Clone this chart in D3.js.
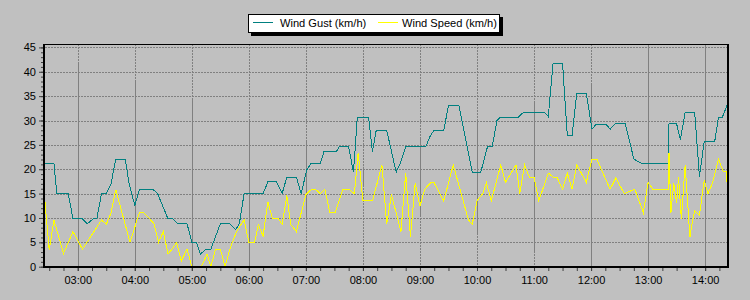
<!DOCTYPE html>
<html>
<head>
<meta charset="utf-8">
<script src="https://cdn.jsdelivr.net/npm/d3@7"></script>
<style>
  body { margin: 0; background: #c0c0c0; }
  svg { display: block; font-family: Arial, "Liberation Sans", sans-serif; }
</style>
</head>
<body>
<svg id="chart" width="750" height="300"></svg>
<script>
var gustTimes = ["02:25","02:35","02:38","02:50","02:55","03:05","03:10","03:16","03:20","03:25",
  "03:30","03:35","03:40","03:50","03:54","04:00","04:05","04:19","04:24","04:35",
  "04:40","04:45","04:55","05:00","05:05","05:09","05:15","05:20","05:30","05:40",
  "05:46","05:50","05:55","06:15","06:20","06:29","06:35","06:40","06:50","06:55",
  "07:01","07:05","07:15","07:19","07:32","07:35","07:45","07:50","07:52","07:54",
  "08:06","08:10","08:14","08:25","08:35","08:39","08:45","09:06","09:11","09:15",
  "09:25","09:30","09:41","09:55","10:04","10:11","10:16","10:21","10:24","10:43",
  "10:49","11:11","11:15","11:20","11:30","11:35","11:40","11:45","11:55","12:01",
  "12:05","12:16","12:20","12:25","12:36","12:45","12:54","13:21","13:22","13:30",
  "13:34","13:39","13:49","13:54","13:59","14:10","14:14","14:18","14:23"];
var gustKmh = [21.1,21.1,15.0,15.0,9.8,9.8,8.8,9.8,9.8,15.0,
  15.0,17.0,22.1,22.1,17.0,12.6,15.9,15.9,15.0,9.8,
  9.8,8.8,8.8,5.0,5.0,2.6,3.6,3.6,8.8,8.8,
  7.6,8.8,15.0,15.0,17.4,17.4,15.0,18.4,18.4,15.0,
  19.9,21.1,21.1,23.6,23.6,24.6,24.6,19.4,24.6,30.6,
  30.6,23.6,28.0,28.0,19.4,21.1,24.6,24.6,26.9,28.0,
  28.0,33.0,33.0,19.4,19.4,24.6,24.6,30.0,30.6,30.6,
  31.7,31.7,30.8,41.7,41.7,26.9,26.9,35.6,35.6,28.2,
  29.2,29.2,28.2,29.3,29.3,22.1,21.1,21.1,29.3,29.3,
  26.1,31.7,31.7,18.5,25.6,25.6,30.6,30.6,33.1];

var speedTimes = ["02:25","02:30","02:35","02:45","02:55","03:05","03:25","03:30","03:35","03:40",
  "03:55","04:05","04:09","04:20","04:25","04:30","04:35","04:40","04:44","04:49",
  "04:55","05:00","05:10","05:16","05:20","05:25","05:30","05:35","05:40","05:47",
  "05:55","06:00","06:06","06:10","06:15","06:20","06:25","06:31","06:35","06:40",
  "06:44","06:50","07:00","07:06","07:10","07:15","07:20","07:25","07:31","07:39",
  "07:45","07:51","07:55","08:00","08:10","08:20","08:25","08:30","08:40","08:45",
  "08:50","08:55","09:00","09:05","09:11","09:15","09:25","09:35","09:51","09:55",
  "10:00","10:06","10:10","10:15","10:25","10:30","10:41","10:45","10:50","10:55",
  "11:00","11:05","11:15","11:20","11:24","11:30","11:35","11:40","11:45","11:55",
  "12:01","12:06","12:20","12:26","12:35","12:46","12:55","13:00","13:05","13:21",
  "13:22","13:24","13:27","13:30","13:32","13:35","13:39","13:44","13:46","13:49",
  "13:54","13:59","14:03","14:08","14:14","14:19","14:22","14:23"];
var speedKmh = [14.4,3.4,9.6,2.7,7.2,3.6,9.6,8.7,11.0,15.8,
  5.0,11.2,11.2,8.9,5.0,7.2,2.6,3.8,5.0,1.2,
  3.6,0,0,2.6,0,3.6,3.6,0,3.6,7.2,
  9.6,5.0,5.0,8.6,6.3,13.3,9.8,9.8,8.7,14.6,
  8.7,7.2,14.8,15.9,15.9,15.0,15.9,11.2,11.2,15.9,
  15.9,15.0,23.4,13.5,13.5,20.9,8.7,14.8,7.2,19.2,
  6.2,17.2,12.4,15.9,17.2,17.2,13.5,20.9,9.6,8.7,
  13.5,15.0,17.2,13.5,20.9,17.3,20.9,15.0,20.9,18.4,
  18.4,13.5,19.2,18.4,18.4,15.9,19.2,15.9,20.9,17.3,
  22.1,22.1,15.9,18.2,15.0,15.9,11.1,17.3,15.9,15.9,
  23.4,11.1,17.2,13.0,18.4,9.8,20.9,6.0,8.5,11.5,
  10.5,17.7,15.0,17.3,22.1,19.6,19.6,17.3];

var hourTicks = ["03:00","04:00","05:00","06:00","07:00","08:00","09:00","10:00","11:00","12:00","13:00","14:00"];
var yTicks = [0,5,10,15,20,25,30,35,40,45];
var seriesNames = ["Wind Gust (km/h)", "Wind Speed (km/h)"];
var seriesColors = ["#008080", "#ffff00"];

// the old control left the hour grid lines half solid, half dotted (km/h span that is solid)
var hourSolidSpan = [[0,41.8],[0,37.9],[0,34.2],[0,30.1],[10,26],[16.4,20.5],
  [10.6,26.4],[6.5,29.7],[2.8,33.8],[0,37.7],[0,45.7],[0,45.7]];

var parseT = d3.timeParse("%H:%M");
var parseTs = d3.timeParse("%H:%M:%S");

var plot = { left: 44, right: 727, top: 44, bottom: 267 };

var x = d3.scaleTime()
  .domain([parseTs("02:24:30"), parseTs("14:23:00")])
  .range([plot.left, plot.right]);
var y = d3.scaleLinear().domain([0, 45.7]).range([266.7, plot.top]);

var svg = d3.select("#chart");
svg.append("rect").attr("width", 750).attr("height", 300).attr("fill", "#c0c0c0");

// horizontal grid
var grid = svg.append("g");
grid.selectAll("line.h")
  .data(yTicks.filter(function (v) { return v > 0; }))
  .enter().append("line")
  .attr("class", "h")
  .attr("x1", plot.left + 1).attr("x2", plot.right)
  .attr("y1", function (v) { return Math.round(y(v)) + 0.5; })
  .attr("y2", function (v) { return Math.round(y(v)) + 0.5; })
  .attr("stroke", "#808080")
  .attr("stroke-dasharray", "2,1");

// vertical grid
var hours = hourTicks.map(parseT);
grid.selectAll("line.v")
  .data(hours)
  .enter().append("line")
  .attr("class", "v")
  .attr("x1", function (d) { return Math.round(x(d)) + 0.5; })
  .attr("x2", function (d) { return Math.round(x(d)) + 0.5; })
  .attr("y1", plot.top)
  .attr("y2", plot.bottom)
  .attr("stroke", "#808080")
  .attr("stroke-dasharray", "2,1");
grid.selectAll("line.vs")
  .data(hours)
  .enter().append("line")
  .attr("class", "vs")
  .attr("x1", function (d) { return Math.round(x(d)) + 0.5; })
  .attr("x2", function (d) { return Math.round(x(d)) + 0.5; })
  .attr("y1", function (d, i) { return y(hourSolidSpan[i][1]); })
  .attr("y2", function (d, i) { return y(hourSolidSpan[i][0]); })
  .attr("stroke", "#808080");

// series
var line = d3.line()
  .x(function (d) { return x(d[0]); })
  .y(function (d) { return y(d[1]); });

function pairs(times, vals) {
  return times.map(function (t, i) { return [parseT(t), vals[i]]; });
}

var series = [pairs(gustTimes, gustKmh), pairs(speedTimes, speedKmh)];
svg.append("g")
  .selectAll("path")
  .data(series)
  .enter().append("path")
  .attr("d", line)
  .attr("fill", "none")
  .attr("stroke", function (d, i) { return seriesColors[i]; })
  .attr("stroke-width", 1)
  .attr("shape-rendering", "crispEdges");

// frame
svg.append("line").attr("x1", plot.left).attr("x2", plot.right + 2)
  .attr("y1", plot.top + 0.5).attr("y2", plot.top + 0.5).attr("stroke", "#000");
svg.append("line").attr("x1", plot.right + 1).attr("x2", plot.right + 1)
  .attr("y1", plot.top).attr("y2", plot.bottom).attr("stroke", "#000").attr("stroke-width", 2);
svg.append("line").attr("x1", plot.left).attr("x2", plot.left)
  .attr("y1", plot.top).attr("y2", plot.bottom + 1).attr("stroke", "#000").attr("stroke-width", 2);
svg.append("line").attr("x1", plot.left - 1).attr("x2", plot.right + 2)
  .attr("y1", plot.bottom).attr("y2", plot.bottom).attr("stroke", "#000").attr("stroke-width", 2);

// y axis
var yMinor = svg.append("g").attr("transform", "translate(" + (plot.left - 1) + ",0)")
  .call(d3.axisLeft(y).tickValues(d3.range(0, 46)).tickSize(2).tickFormat(""));
var yAxis = svg.append("g").attr("transform", "translate(" + (plot.left - 1) + ",0)")
  .call(d3.axisLeft(y).tickValues(yTicks).tickSize(4).tickPadding(3));

// x axis
var xMinor = svg.append("g").attr("transform", "translate(0," + (plot.bottom + 1) + ")")
  .call(d3.axisBottom(x).ticks(d3.timeMinute.every(15)).tickSize(3).tickFormat(""));
var xAxis = svg.append("g").attr("transform", "translate(0," + (plot.bottom + 1) + ")")
  .call(d3.axisBottom(x).tickValues(hours).tickSize(3).tickPadding(5)
    .tickFormat(d3.timeFormat("%H:%M")));

[yMinor, yAxis, xMinor, xAxis].forEach(function (g) {
  g.select(".domain").remove();
  g.selectAll(".tick line").attr("stroke", "#404040");
  g.selectAll("text").attr("font-size", 11).attr("font-family", "Arial, 'Liberation Sans', sans-serif")
    .attr("fill", "#000");
});

// legend
var legend = svg.append("g");
legend.append("rect").attr("x", 251).attr("y", 17).attr("width", 252).attr("height", 19).attr("fill", "#000");
legend.append("rect").attr("x", 248.5).attr("y", 14.5).attr("width", 251).attr("height", 18)
  .attr("fill", "#fff").attr("stroke", "#000");
var legendX = [253, 378];
var items = legend.selectAll("g.item")
  .data(seriesNames)
  .enter().append("g")
  .attr("class", "item")
  .attr("transform", function (d, i) { return "translate(" + legendX[i] + ",0)"; });
items.append("line")
  .attr("x1", 0).attr("x2", 20).attr("y1", 22.5).attr("y2", 22.5)
  .attr("stroke", function (d, i) { return seriesColors[i]; });
items.append("text")
  .attr("x", function (d, i) { return i === 0 ? 27 : 24; })
  .attr("y", 27)
  .attr("font-size", 11.1)
  .attr("fill", "#000")
  .text(function (d) { return d; });
</script>
</body>
</html>
